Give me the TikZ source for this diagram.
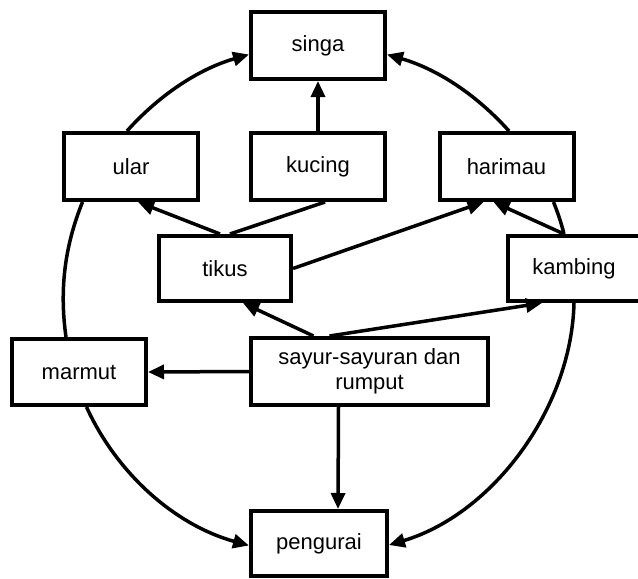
\documentclass[tikz,border=0pt]{standalone}
\usepackage{fontspec}
\setmainfont{Liberation Sans}
\usetikzlibrary{arrows.meta}

\begin{document}
\begin{tikzpicture}[x=1pt, y=-1pt, looseness=0.9,
    box/.style={draw, line width=4pt, minimum width=134pt, minimum height=67pt,
      inner sep=2pt, align=center, font=\fontsize{22}{25}\selectfont},
    arr/.style={line width=3.5pt, -{Triangle[length=16pt,width=14pt]}},
    lin/.style={line width=3.5pt}]
  \useasboundingbox (0,0) rectangle (638,579);
  % nodes
  \node[box] (singa) at (318,45.5) {singa};
  \node[box] (ular) at (131,166.5) {ular};
  \node[box] (kucing) at (318,166.5) {kucing};
  \node[box] (harimau) at (506.5,166.5) {harimau};
  \node[box, minimum width=132pt, minimum height=65pt] (tikus) at (225,268.5) {tikus};
  \node[box, minimum width=132pt, minimum height=65pt] (kambing) at (574,268.5) {kambing};
  \node[box, minimum height=66pt] (marmut) at (79,372) {marmut};
  \node[box, minimum width=237pt] (sayur) at (369.5,371.5) {sayur-sayuran dan\\rumput};
  \node[box, minimum width=136pt, minimum height=65pt] (pengurai) at (319,543.5) {pengurai};
  % straight connectors
  \draw[arr] (kucing.north) -- (singa.south);
  \draw[arr] ([xshift=-5pt]tikus.north) -- ([xshift=7pt]ular.south);
  \draw[lin] ([xshift=7pt]kucing.south) -- ([xshift=5pt]tikus.north);
  \draw[arr] (tikus.east) -- ([xshift=-23pt]harimau.south);
  \draw[arr] ([xshift=-10pt]kambing.north) -- ([xshift=-13pt]harimau.south);
  \draw[arr] ([xshift=-56pt]sayur.north) -- ([xshift=18pt]tikus.south);
  \draw[arr] ([xshift=-40pt]sayur.north) -- ([xshift=-32pt]kambing.south);
  \draw[arr] (sayur.west) -- (marmut.east);
  \draw[arr] ([xshift=-31pt]sayur.south) -- ([xshift=19pt]pengurai.north);
  % the outer ring
  \draw[arr] ([xshift=-4pt]ular.north) to[bend left=16] ([yshift=-9pt]singa.west);
  \draw[arr] ([xshift=2.5pt]harimau.north) to[bend right=16] ([yshift=-9pt]singa.east);
  \draw[lin] ([xshift=-48.5pt]ular.south) to[bend right=15] ([xshift=-13pt]marmut.north);
  \draw[arr] ([xshift=7.5pt]marmut.south) to[bend right=25] ([yshift=-2pt]pengurai.west);
  \draw[lin] ([xshift=47pt]harimau.south) to[bend left=4] ([xshift=-10pt]kambing.north);
  \draw[arr] (kambing.south) to[bend left=36] ([yshift=-1.5pt]pengurai.east);
\end{tikzpicture}
\end{document}
